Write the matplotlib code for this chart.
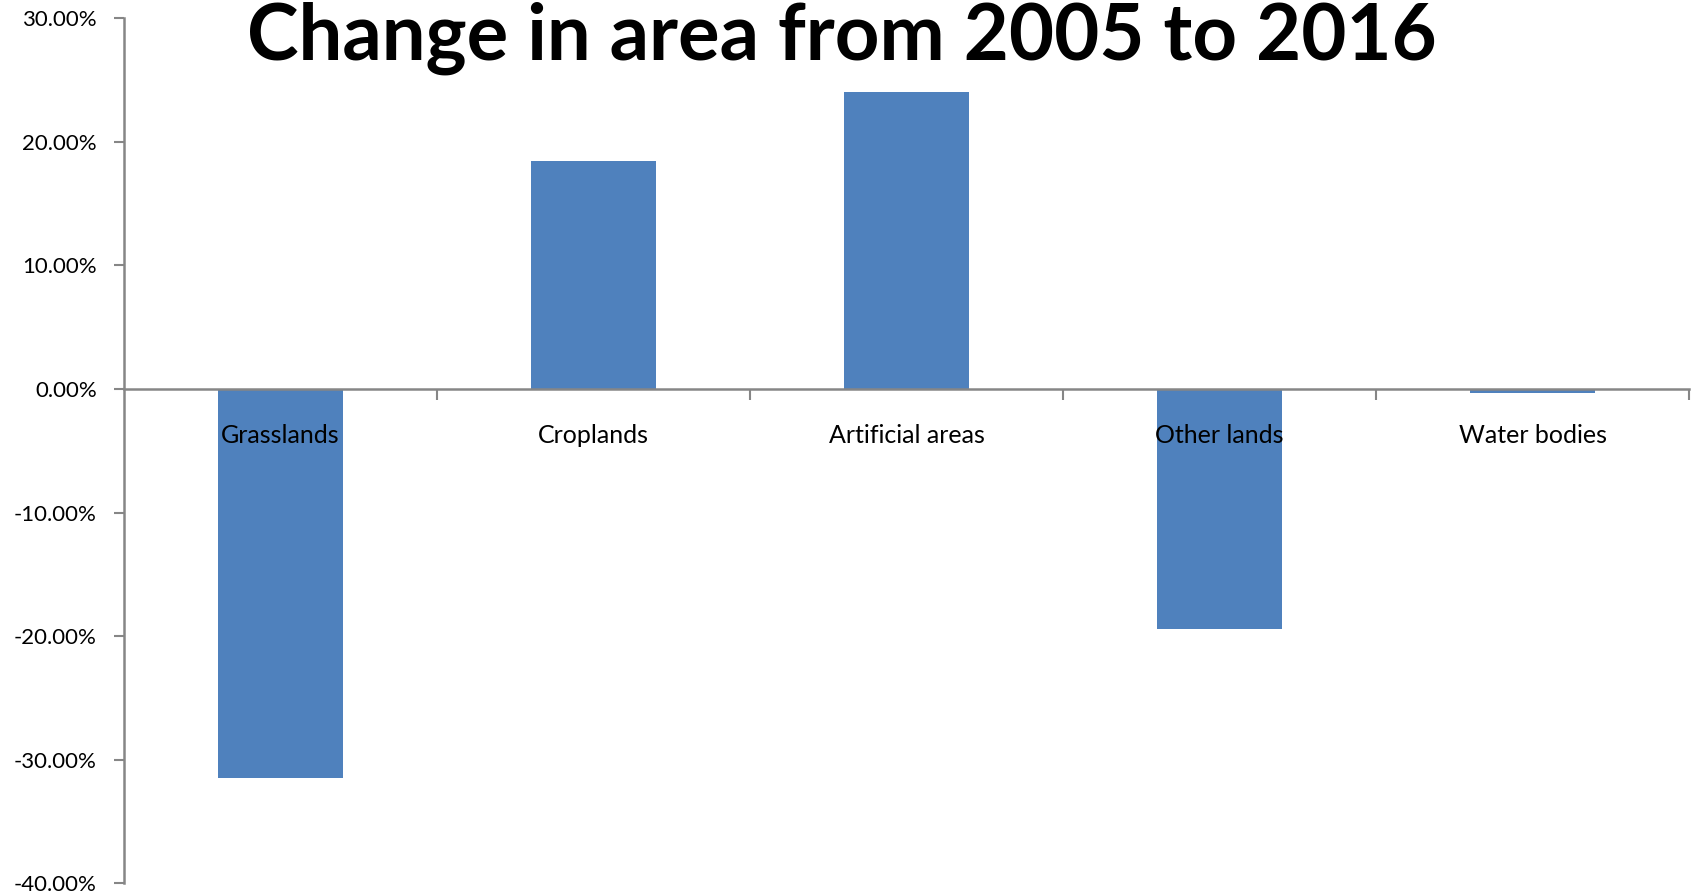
import matplotlib
matplotlib.use("Agg")
import matplotlib.pyplot as plt
from matplotlib.ticker import FuncFormatter, FixedLocator

categories = ["Grasslands", "Croplands", "Artificial areas", "Other lands", "Water bodies"]
change_pct = [-31.5, 18.45, 24.0, -19.45, -0.3]
y_ticks = [30, 20, 10, 0, -10, -20, -30, -40]
title = "Change in area from 2005 to 2016"

plt.rcParams["font.family"] = ["Lato", "DejaVu Sans"]

W, H = 1694, 894
fig = plt.figure(figsize=(W / 100, H / 100), dpi=100)
ax = fig.add_axes([124 / W, 1 - 883.3 / H, (1689 - 124) / W, (883.3 - 18.3) / H])

bar_color = "#4F81BD"
axis_color = "#868686"

x = list(range(len(categories)))
ax.bar(x, change_pct, width=0.4, color=bar_color, zorder=1)
ax.set_axisbelow(False)

ax.set_xlim(-0.5, len(categories) - 0.5)
ax.set_ylim(-40, 30)

# y axis
ax.yaxis.set_major_locator(FixedLocator(y_ticks))
ax.yaxis.set_major_formatter(FuncFormatter(lambda v, _: f"{v:.2f}%"))
ax.tick_params(axis="y", direction="out", length=7, width=1.5, color=axis_color,
               labelsize=16, labelcolor="#000000", pad=12.5)

# x axis at zero with boundary ticks
ax.spines["bottom"].set_position(("data", 0))
ax.spines["bottom"].set_zorder(3)
ax.set_xticks(x)
ax.set_xticklabels(categories)
ax.set_xticks([i + 0.5 for i in x], minor=True)
ax.tick_params(axis="x", which="major", length=0, labelsize=18, pad=25)
ax.tick_params(axis="x", which="minor", direction="out", length=8, width=1.5, color=axis_color)

for s in ("top", "right"):
    ax.spines[s].set_visible(False)
for s in ("left", "bottom"):
    ax.spines[s].set_color(axis_color)
    ax.spines[s].set_linewidth(1.8)

fig.text(842 / W, 1 - 38 / H, title, ha="center", va="center",
         fontsize=56, fontweight="bold", color="#000000")

fig.savefig("out.png", dpi=100)
